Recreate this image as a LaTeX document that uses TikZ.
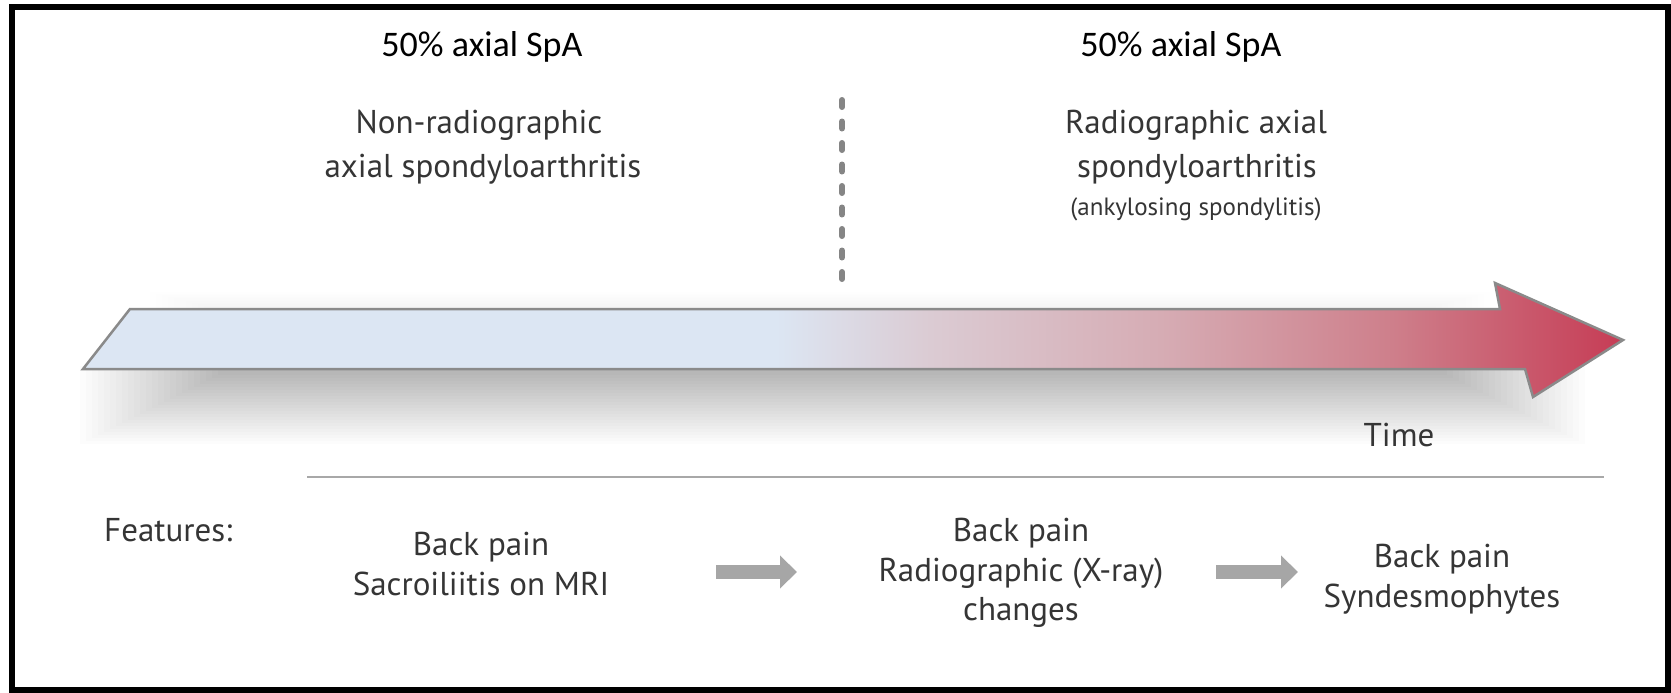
\documentclass[tikz,border=0pt]{standalone}
\usepackage{fontspec}
\setmainfont{PT Sans}
\newfontfamily\calibri{Carlito}
\usetikzlibrary{arrows.meta}
\definecolor{ablue}{HTML}{DCE6F3}
\definecolor{amidA}{HTML}{DBCBD3}
\definecolor{amidB}{HTML}{D6ACB4}
\definecolor{amidC}{HTML}{CE7F8B}
\definecolor{ared}{HTML}{C63C55}
\definecolor{agray}{HTML}{8A8A8A}
\definecolor{dashgray}{HTML}{858585}
\definecolor{textgray}{HTML}{353535}
\definecolor{arrowgray}{HTML}{A6A6A6}
\definecolor{rulegray}{HTML}{A8A8A8}
% visible part of a TikZ shading runs from 25bp to 75bp
\pgfdeclarehorizontalshading{arrowshade}{100bp}{color(0bp)=(ablue); color(47.5bp)=(ablue); color(52.5bp)=(amidA); color(60bp)=(amidB); color(67.5bp)=(amidC); color(75bp)=(ared); color(100bp)=(ared)}
\begin{document}
\begin{tikzpicture}[x=1pt,y=-1pt,
  title/.style={font=\calibri\fontsize{36}{40}\selectfont, anchor=base, inner sep=0pt},
  txt/.style={font=\fontsize{33}{38}\selectfont, text=textgray, anchor=base, inner sep=0pt},
  smalltxt/.style={font=\fontsize{25}{30}\selectfont, text=textgray, anchor=base, inner sep=0pt},
  grayarrow/.style={draw=arrowgray, line width=14pt, -{Triangle[length=17pt,width=32pt]}},
]
\useasboundingbox (0,0) rectangle (1671,693);
\fill[white] (0,0) rectangle (1671,693);
% frame
\draw[black, line width=6pt] (12,7) rectangle (1668,690);
% shadow of the time arrow
\foreach \i in {0,...,23}
  \fill[black, opacity=0.0105] ({80+\i*6},366) rectangle ({1585-\i*6},{444-\i*3});
\foreach \i in {0,...,9}
  \fill[black, opacity=0.004] ({150+\i*6},{292+\i*1.5}) rectangle ({1490-\i*6},320);
% time arrow
\shadedraw[shading=arrowshade, draw=agray, line width=2.5pt, line join=miter]
  (83,369) -- (130,309) -- (1500,309) -- (1495,283) -- (1623,340) -- (1533,397) -- (1525,369) -- cycle;
% dashed divider
\coordinate (dtop) at (842,100);
\coordinate (dbot) at (842,279);
\draw[dashgray, line width=6pt, line cap=round, dash pattern=on 7pt off 14.5pt] (dtop) -- (dbot);
% titles
\node[title] (t1) at (482,57) {50\% axial SpA};
\node[title] (t2) at (1181,57) {50\% axial SpA};
\node[txt] (nr1) at (479,133) {Non-radiographic};
\node[txt] (nr2) at (483,177) {axial spondyloarthritis};
\node[txt] (r1) at (1196,133) {Radiographic axial};
\node[txt] (r2) at (1197,177) {spondyloarthritis};
\node[smalltxt] (r3) at (1196,215) {(ankylosing spondylitis)};
% time
\node[txt] (time) at (1399,446) {Time};
\coordinate (ruleL) at (307,477);
\coordinate (ruleR) at (1604,477);
\draw[rulegray, line width=1.5pt] (ruleL) -- (ruleR);
% features
\node[txt, anchor=base west] (feat) at (104,541) {Features:};
\node[txt] (fa1) at (481,555) {Back pain};
\node[txt] (fa2) at (481,595) {Sacroiliitis on MRI};
\node[txt] (fb1) at (1021,541) {Back pain};
\node[txt] (fb2) at (1021,581) {Radiographic (X-ray)};
\node[txt] (fb3) at (1021,620) {changes};
\node[txt] (fc1) at (1442,567) {Back pain};
\node[txt] (fc2) at (1442,607) {Syndesmophytes};
% gray arrows
\coordinate (a1s) at (716,572);
\coordinate (a1e) at (797,572);
\coordinate (a2s) at (1216,572);
\coordinate (a2e) at (1298,572);
\draw[grayarrow] (a1s) -- (a1e);
\draw[grayarrow] (a2s) -- (a2e);
\end{tikzpicture}
\end{document}
